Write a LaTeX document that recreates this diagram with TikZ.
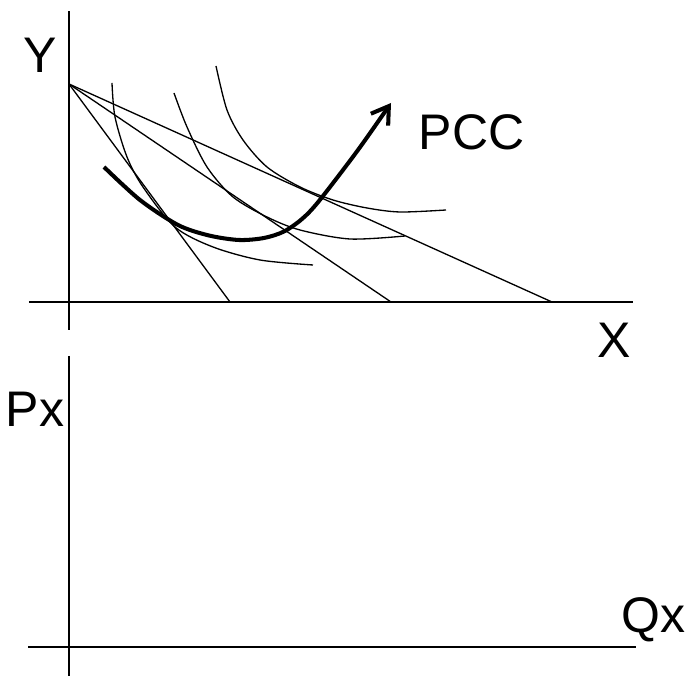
\documentclass[tikz,border=0pt]{standalone}
\usepackage{fontspec}
\setmainfont{Liberation Sans}
\usepackage{tikz}
\usetikzlibrary{arrows.meta}

\begin{document}
\begin{tikzpicture}[>={Straight Barb[length=3.3mm,width=4.2mm]},line width=0.75pt,
  lbl/.style={anchor=base west,inner sep=0pt,font=\fontsize{28.45}{34}\selectfont}]
  \useasboundingbox (-1.38,-7.48) rectangle (12.32,6.04);
  % upper panel
  \draw (0,-0.56)--(0,5.82);
  \draw (-0.8,0)--(11.28,0);
  \node[lbl] (ylab) at (-0.92,4.58) {Y};
  \node[lbl] (xlab) at (10.56,-1.12) {X};
  % budget lines
  \coordinate (B) at (0,4.36);
  \foreach \xi in {3.22,6.44,9.66} \draw (B)--(\xi,0);
  % indifference curves
  \draw plot[smooth] coordinates {(0.86,4.38) (0.92,3.70) (1.16,2.90) (1.48,2.30) (2.12,1.50) (2.88,1.10) (3.82,0.84) (4.88,0.74)};
  \draw plot[smooth] coordinates {(2.10,4.18) (2.36,3.50) (2.76,2.70) (3.28,2.10) (3.96,1.70) (4.62,1.44) (5.62,1.26) (6.72,1.32)};
  \draw plot[smooth] coordinates {(2.94,4.72) (3.16,3.84) (3.48,3.24) (3.96,2.70) (4.62,2.30) (5.28,2.04) (5.96,1.88) (6.62,1.80) (7.54,1.84)};
  % price consumption curve
  \draw[->,line width=2.3pt] plot[smooth] coordinates {(0.70,2.70) (1.42,2.04) (2.18,1.54) (2.80,1.33) (3.40,1.24) (3.90,1.28) (4.30,1.41) (4.66,1.66) (5.00,2.02) (5.78,3.04) (6.44,3.98)};
  \node[lbl] (pcc) at (6.98,3.04) {PCC};
  % lower panel
  \draw (0,-1.08)--(0,-7.48);
  \draw (-0.81,-6.9)--(11.34,-6.9);
  \node[lbl] (px) at (-1.28,-2.5) {Px};
  \node[lbl] (qx) at (11.03,-6.62) {Qx};
\end{tikzpicture}
\end{document}
